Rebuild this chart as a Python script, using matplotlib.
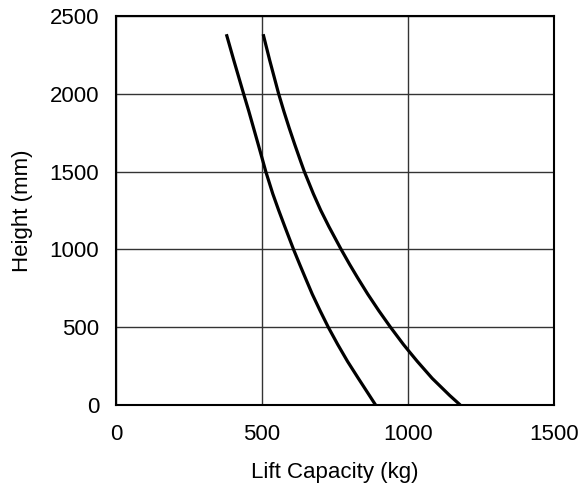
import matplotlib
matplotlib.use('Agg')
import matplotlib.pyplot as plt

# curve readings (lift capacity in kg at a given height in mm)
height_a = [2383, 2218, 2000, 1887, 1781, 1675, 1568, 1500, 1357, 1252, 1147, 1000,
            904, 819, 713, 606, 500, 390, 280, 171, 61, 0]
capacity_a = [378, 403, 437, 455, 471, 487, 503, 513, 537, 557, 578, 608,
              629, 648, 672, 699, 727, 759, 793, 830, 868, 889]

height_b = [2383, 2218, 2000, 1887, 1781, 1675, 1568, 1500, 1357, 1252, 1147, 1000,
            904, 819, 713, 606, 500, 390, 346, 280, 171, 61, 0]
capacity_b = [504, 526, 557, 575, 593, 612, 632, 645, 676, 701, 729, 771,
              800, 827, 862, 900, 940, 984, 1003, 1032, 1083, 1143, 1179]

x_ticks = [0, 500, 1000, 1500]
y_ticks = [0, 500, 1000, 1500, 2000, 2500]

plt.rcParams['font.family'] = ['Liberation Sans', 'DejaVu Sans']

fig = plt.figure(figsize=(5.85, 4.93), dpi=100)
ax = fig.add_axes([116 / 585, 1 - 405 / 493, 438 / 585, 389 / 493])

for cap, h in [(capacity_a, height_a), (capacity_b, height_b)]:
    ax.plot(cap, h, color='black', linewidth=2.3,
            solid_capstyle='butt', solid_joinstyle='round')

ax.set_xlim(0, 1500)
ax.set_ylim(0, 2500)
ax.set_xticks(x_ticks)
ax.set_yticks(y_ticks)
ax.grid(True, color='#333333', linewidth=1.0)
ax.set_axisbelow(True)
ax.tick_params(length=0, labelsize=16, pad=14)
ax.tick_params(axis='y', pad=12)
for s in ax.spines.values():
    s.set_linewidth(1.5)
    s.set_color('black')

ax.set_xlabel('Lift Capacity (kg)', fontsize=16, labelpad=12)
ax.set_ylabel('Height (mm)', fontsize=16, labelpad=12)

fig.savefig('out.png', dpi=100)
